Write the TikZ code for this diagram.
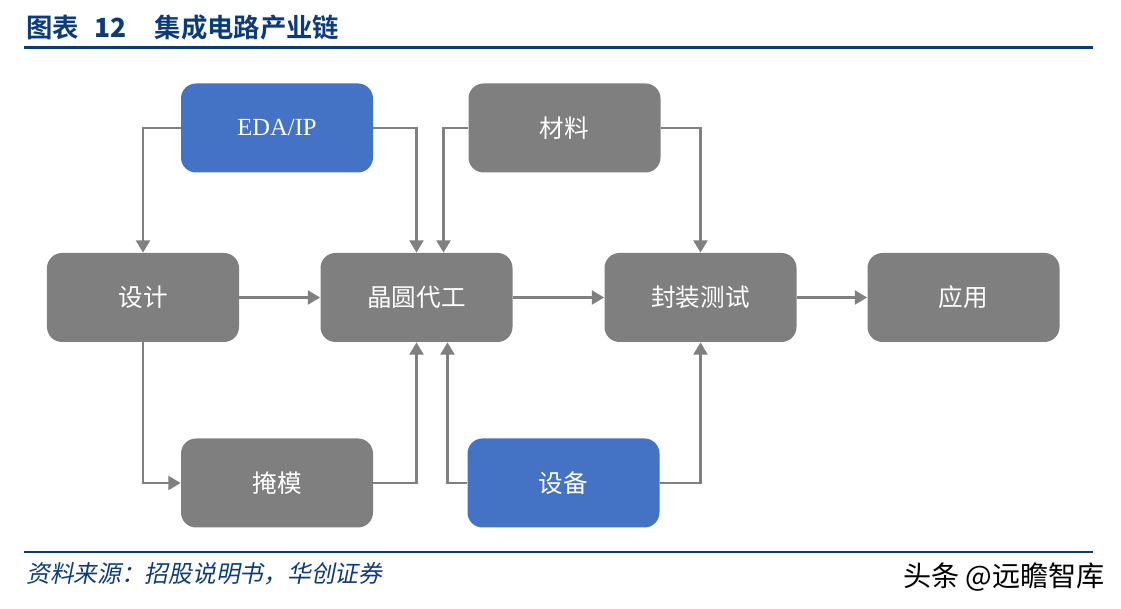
\documentclass[tikz,border=0pt]{standalone}
\usepackage{fontspec}
\setmainfont{Liberation Serif}
\newfontfamily\cjk{Noto Sans CJK SC}
\newfontfamily\cjkbf{Noto Sans CJK SC Bold}
\newfontfamily\cjkit[FakeSlant=0.2]{Noto Sans CJK SC}
\usepackage{tikz}
\usetikzlibrary{arrows.meta,positioning}
\definecolor{boxgrey}{HTML}{7F7F7F}
\definecolor{boxblue}{HTML}{4472C4}
\definecolor{linegrey}{HTML}{808080}
\definecolor{navy}{HTML}{0B3B7C}
\tikzset{
  stagebox/.style={rounded corners=3mm, fill=boxgrey, text=white, minimum width=38.4mm,
    minimum height=17.8mm, inner sep=0pt, font=\cjk\fontsize{14}{16}\selectfont},
  inputbox/.style={stagebox, fill=boxblue},
  flow/.style={draw=linegrey, line width=1.2pt, -{Triangle[width=8pt,length=7pt]}}
}

\begin{document}
\begin{tikzpicture}[x=0.2mm, y=-0.2mm]
  \useasboundingbox (0,0) rectangle (1121,609);
  % title and rules
  \node[anchor=base west, text=navy, font=\cjkbf\fontsize{15}{18}\selectfont, inner sep=0pt] (title) at (26,38) {图表\hspace{0.6em}\textbf{12}\hspace{1.05em}集成电路产业链};
  \draw[navy, line width=1.7pt] (24,48) -- (1093,48);
  \draw[navy, line width=1.7pt] (24,552) -- (1093,552);
  % stages
  \node[stagebox] (design) at (143,297.5) {设计};
  \node[stagebox] (wafer) at (416.5,297.5) {晶圆代工};
  \node[stagebox] (pack) at (700.5,297.5) {封装测试};
  \node[stagebox] (app) at (963.5,297.5) {应用};
  \node[inputbox, font=\fontsize{14}{16}\selectfont] (eda) at (277,128) {EDA/IP};
  \node[stagebox] (mat) at (564.5,128) {材料};
  \node[stagebox] (mask) at (277,483) {掩模};
  \node[inputbox] (equip) at (563.5,483) {设备};
  % connectors
  \draw[flow] (design) -- (wafer);
  \draw[flow] (wafer) -- (pack);
  \draw[flow] (pack) -- (app);
  \draw[flow] (eda.west) -| (design.north);
  \draw[flow] (eda.east) -| (wafer.north);
  \draw[flow] (mat.west) -| ([xshift=5.4mm]wafer.north);
  \draw[flow] (mat.east) -| (pack.north);
  \draw[flow] (design.south) |- (mask.west);
  \draw[flow] (mask.east) -| (wafer.south);
  \draw[flow] (equip.west) -| ([xshift=6.2mm]wafer.south);
  \draw[flow] (equip.east) -| (pack.south);
  % footer
  \node[anchor=base west, text=navy, font=\cjkit\fontsize{13.5}{16}\selectfont, inner sep=0pt] (source) at (26,583) {资料来源：招股说明书，华创证券};
  \node[anchor=base east, font=\cjk\fontsize{16}{18}\selectfont, inner sep=0pt] (mark) at (1105,587) {头条 @远瞻智库};
\end{tikzpicture}
\end{document}
